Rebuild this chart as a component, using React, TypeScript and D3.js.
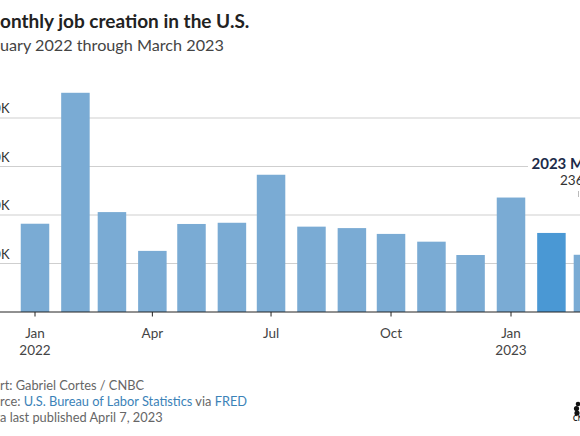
import React, { useLayoutEffect, useRef, useState } from "react";
import * as d3 from "d3";

const months = [
  "2022-01-01", "2022-02-01", "2022-03-01", "2022-04-01", "2022-05-01", "2022-06-01",
  "2022-07-01", "2022-08-01", "2022-09-01", "2022-10-01", "2022-11-01", "2022-12-01",
  "2023-01-01", "2023-02-01", "2023-03-01",
];
const jobs = [364, 904, 412, 252, 363, 368, 566, 352, 346, 322, 290, 235, 472, 326, 236];
const highlightMonth = "2023-02-01";
const yTicks = [200, 400, 600, 800];
const xTicks = ["2022-01-01", "2022-04-01", "2022-07-01", "2022-10-01", "2023-01-01"];
const xTickLabels = [["Jan", "2022"], ["Apr"], ["Jul"], ["Oct"], ["Jan", "2023"]];

const W = 580;
const H = 436;
const FONT = "Lato, 'Open Sans', sans-serif";

// Text whose first `cut` characters sit left of x (clipped by the view)
function CutText(props: any) {
  const { cut, x, y, children, ...rest } = props;
  const ref = useRef<SVGTextElement>(null);
  const [dx, setDx] = useState(0);
  useLayoutEffect(() => {
    const el = ref.current;
    if (el && cut > 0) {
      try {
        setDx(el.getSubStringLength(0, cut));
      } catch (e) {}
    }
  }, [cut]);
  return (
    <text ref={ref} x={x - dx} y={y} {...rest}>
      {children}
    </text>
  );
}

export default function App() {
  const parse = d3.utcParse("%Y-%m-%d");
  const x = d3
    .scaleUtc()
    .domain([parse("2022-01-01")!, parse("2023-01-01")!])
    .range([35, 511]);
  const y = d3.scaleLinear().domain([0, 800]).range([312, 118]);
  const barW = 28.5;

  return (
    <svg
      width={W}
      height={H}
      style={{ position: "absolute", left: 0, top: 0, background: "#fff" }}
      fontFamily={FONT}
    >
      <rect x={0} y={0} width={W} height={H} fill="#fff" />
      {/* Title */}
      <CutText cut={1} x={0} y={28} fontSize={19} fontWeight={700} fill="#222">
        Monthly job creation in the U.S.
      </CutText>
      <CutText cut={3} x={0} y={51} fontSize={16.2} fill="#444">
        January 2022 through March 2023
      </CutText>

      {/* Gridlines */}
      {yTicks.map((t) => (
        <g key={t}>
          <line x1={0} x2={W} y1={y(t)} y2={y(t)} stroke="#cfcfcf" strokeWidth={1} />
          <text x={9.5} y={y(t) - 5} textAnchor="end" fontSize={13} fill="#333">
            {`${t}K`}
          </text>
        </g>
      ))}

      {/* Bars */}
      {months.map((m, i) => (
        <rect
          key={m}
          x={x(parse(m)!) - barW / 2}
          y={y(jobs[i])}
          width={barW}
          height={y(0) - y(jobs[i])}
          fill={m === highlightMonth ? "#4a98d4" : "#7aabd4"}
        />
      ))}

      {/* Annotation */}
      <rect x={528} y={150} width={120} height={48} fill="#fff" />
      <text x={531.5} y={168.5} fontSize={15} fontWeight={700} fill="#1c2b4a">
        2023 March
      </text>
      <text x={560} y={184.5} fontSize={13.5} fill="#333">
        236K
      </text>
      <line x1={578.5} x2={578.5} y1={191} y2={197} stroke="#bbb" strokeWidth={1} />

      {/* Baseline + ticks */}
      <line x1={0} x2={W} y1={y(0)} y2={y(0)} stroke="#222" strokeWidth={1} />
      {xTicks.map((t, i) => {
        const xp = x(parse(t)!);
        return (
          <g key={t}>
            <line x1={xp} x2={xp} y1={y(0)} y2={y(0) + 4.5} stroke="#222" strokeWidth={1} />
            {xTickLabels[i].map((lab, j) => (
              <text key={j} x={xp} y={338 + j * 17} textAnchor="middle" fontSize={13.5} fill="#444">
                {lab}
              </text>
            ))}
          </g>
        );
      })}

      {/* Footer */}
      <CutText cut={3} x={0} y={390} fontSize={12.8} fill="#666">
        Chart: Gabriel Cortes / CNBC
      </CutText>
      <CutText cut={3} x={0} y={406} fontSize={12.8} fill="#666">
        Source: <tspan fill="#3b82b8">U.S. Bureau of Labor Statistics</tspan> via{" "}
        <tspan fill="#3b82b8">FRED</tspan>
      </CutText>
      <CutText cut={3} x={0} y={422} fontSize={12.8} fill="#666">
        Data last published April 7, 2023
      </CutText>

      {/* Logo fragment */}
      <g fill="#111">
        <circle cx={578} cy={404} r={2.3} />
        <circle cx={576.5} cy={408.5} r={2.6} />
        <circle cx={577} cy={413} r={2.6} />
        <text x={573} y={421} fontSize={7} fontWeight={700}>CNBC</text>
      </g>
    </svg>
  );
}
